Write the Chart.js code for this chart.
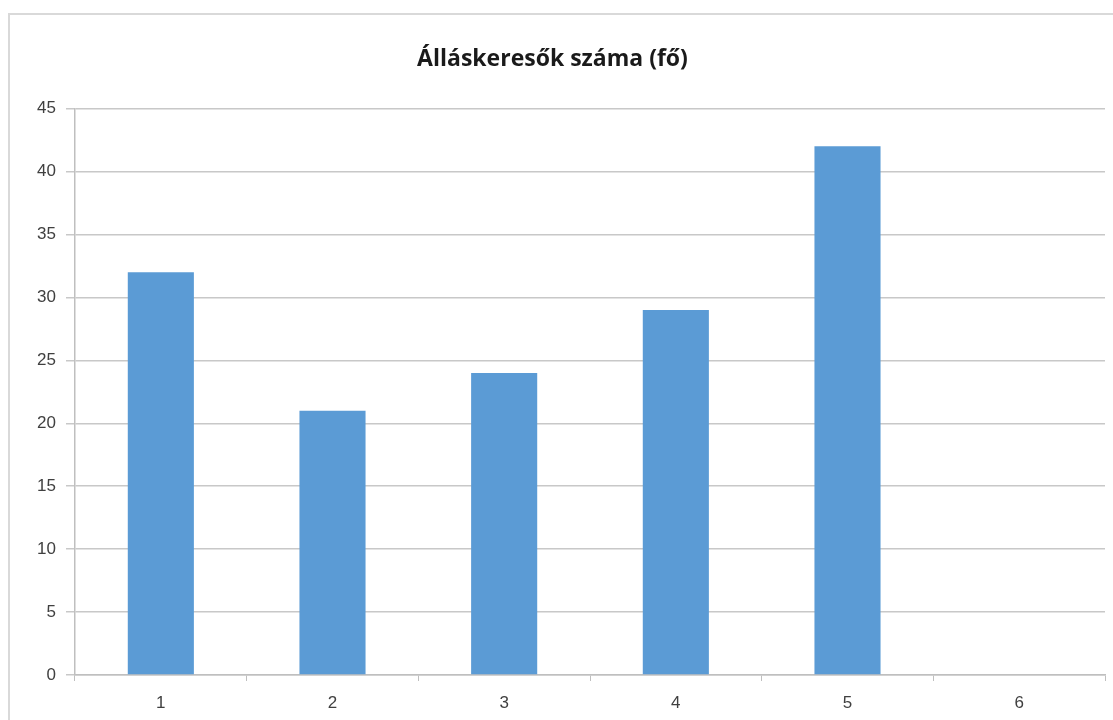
<!DOCTYPE html>
<html>
<head>
<meta charset="utf-8">
<script src="https://cdn.jsdelivr.net/npm/chart.js@4"></script>
<style>
    body { margin: 0; background: #fff; }
    #frame {
        position: absolute; left: 8px; top: 13px;
        width: 1120px; height: 720px;
        border: 2px solid #d9d9d9;
    }
    #wrap { position: absolute; left: 0; top: 0; width: 1113px; height: 720px; }
</style>
</head>
<body>
<div id="frame"></div>
<div id="wrap"><canvas id="chart"></canvas></div>
<script>
// chart data
const categories = ['1', '2', '3', '4', '5', '6'];
const jobSeekers = [32, 21, 24, 29, 42, null];
const chartTitle = 'Álláskeresők száma (fő)';

const ctx = document.getElementById('chart').getContext('2d');
new Chart(ctx, {
    type: 'bar',
    data: {
        labels: categories,
        datasets: [{
            data: jobSeekers,
            backgroundColor: '#5b9bd5',
            barPercentage: 0.385,
            categoryPercentage: 1
        }]
    },
    options: {
        responsive: true,
        maintainAspectRatio: false,
        animation: false,
        layout: { padding: { left: 0, right: 8, top: 0, bottom: 0 } },
        plugins: {
            legend: { display: false },
            tooltip: { enabled: false },
            title: {
                display: true,
                text: chartTitle,
                color: '#1a1a1a',
                font: { family: 'Open Sans', size: 23, weight: 'bold' },
                padding: { top: 46, bottom: 35 }
            }
        },
        scales: {
            x: {
                afterFit: s => { s.height = 45; },
                grid: {
                    offset: true,
                    drawOnChartArea: false,
                    color: '#bfbfbf',
                    tickLength: 6
                },
                border: { color: '#bfbfbf', width: 1.5 },
                ticks: {
                    color: '#404040',
                    padding: 12,
                    font: { family: 'Liberation Sans', size: 17 }
                }
            },
            y: {
                min: 0,
                max: 45,
                afterFit: s => { s.width = 75; },
                grid: { color: '#c8c8c8', lineWidth: 1.5, tickLength: 9 },
                border: { color: '#bfbfbf', width: 1.5 },
                ticks: {
                    stepSize: 5,
                    color: '#404040',
                    padding: 10,
                    font: { family: 'Liberation Sans', size: 17 }
                }
            }
        }
    }
});
</script>
</body>
</html>
